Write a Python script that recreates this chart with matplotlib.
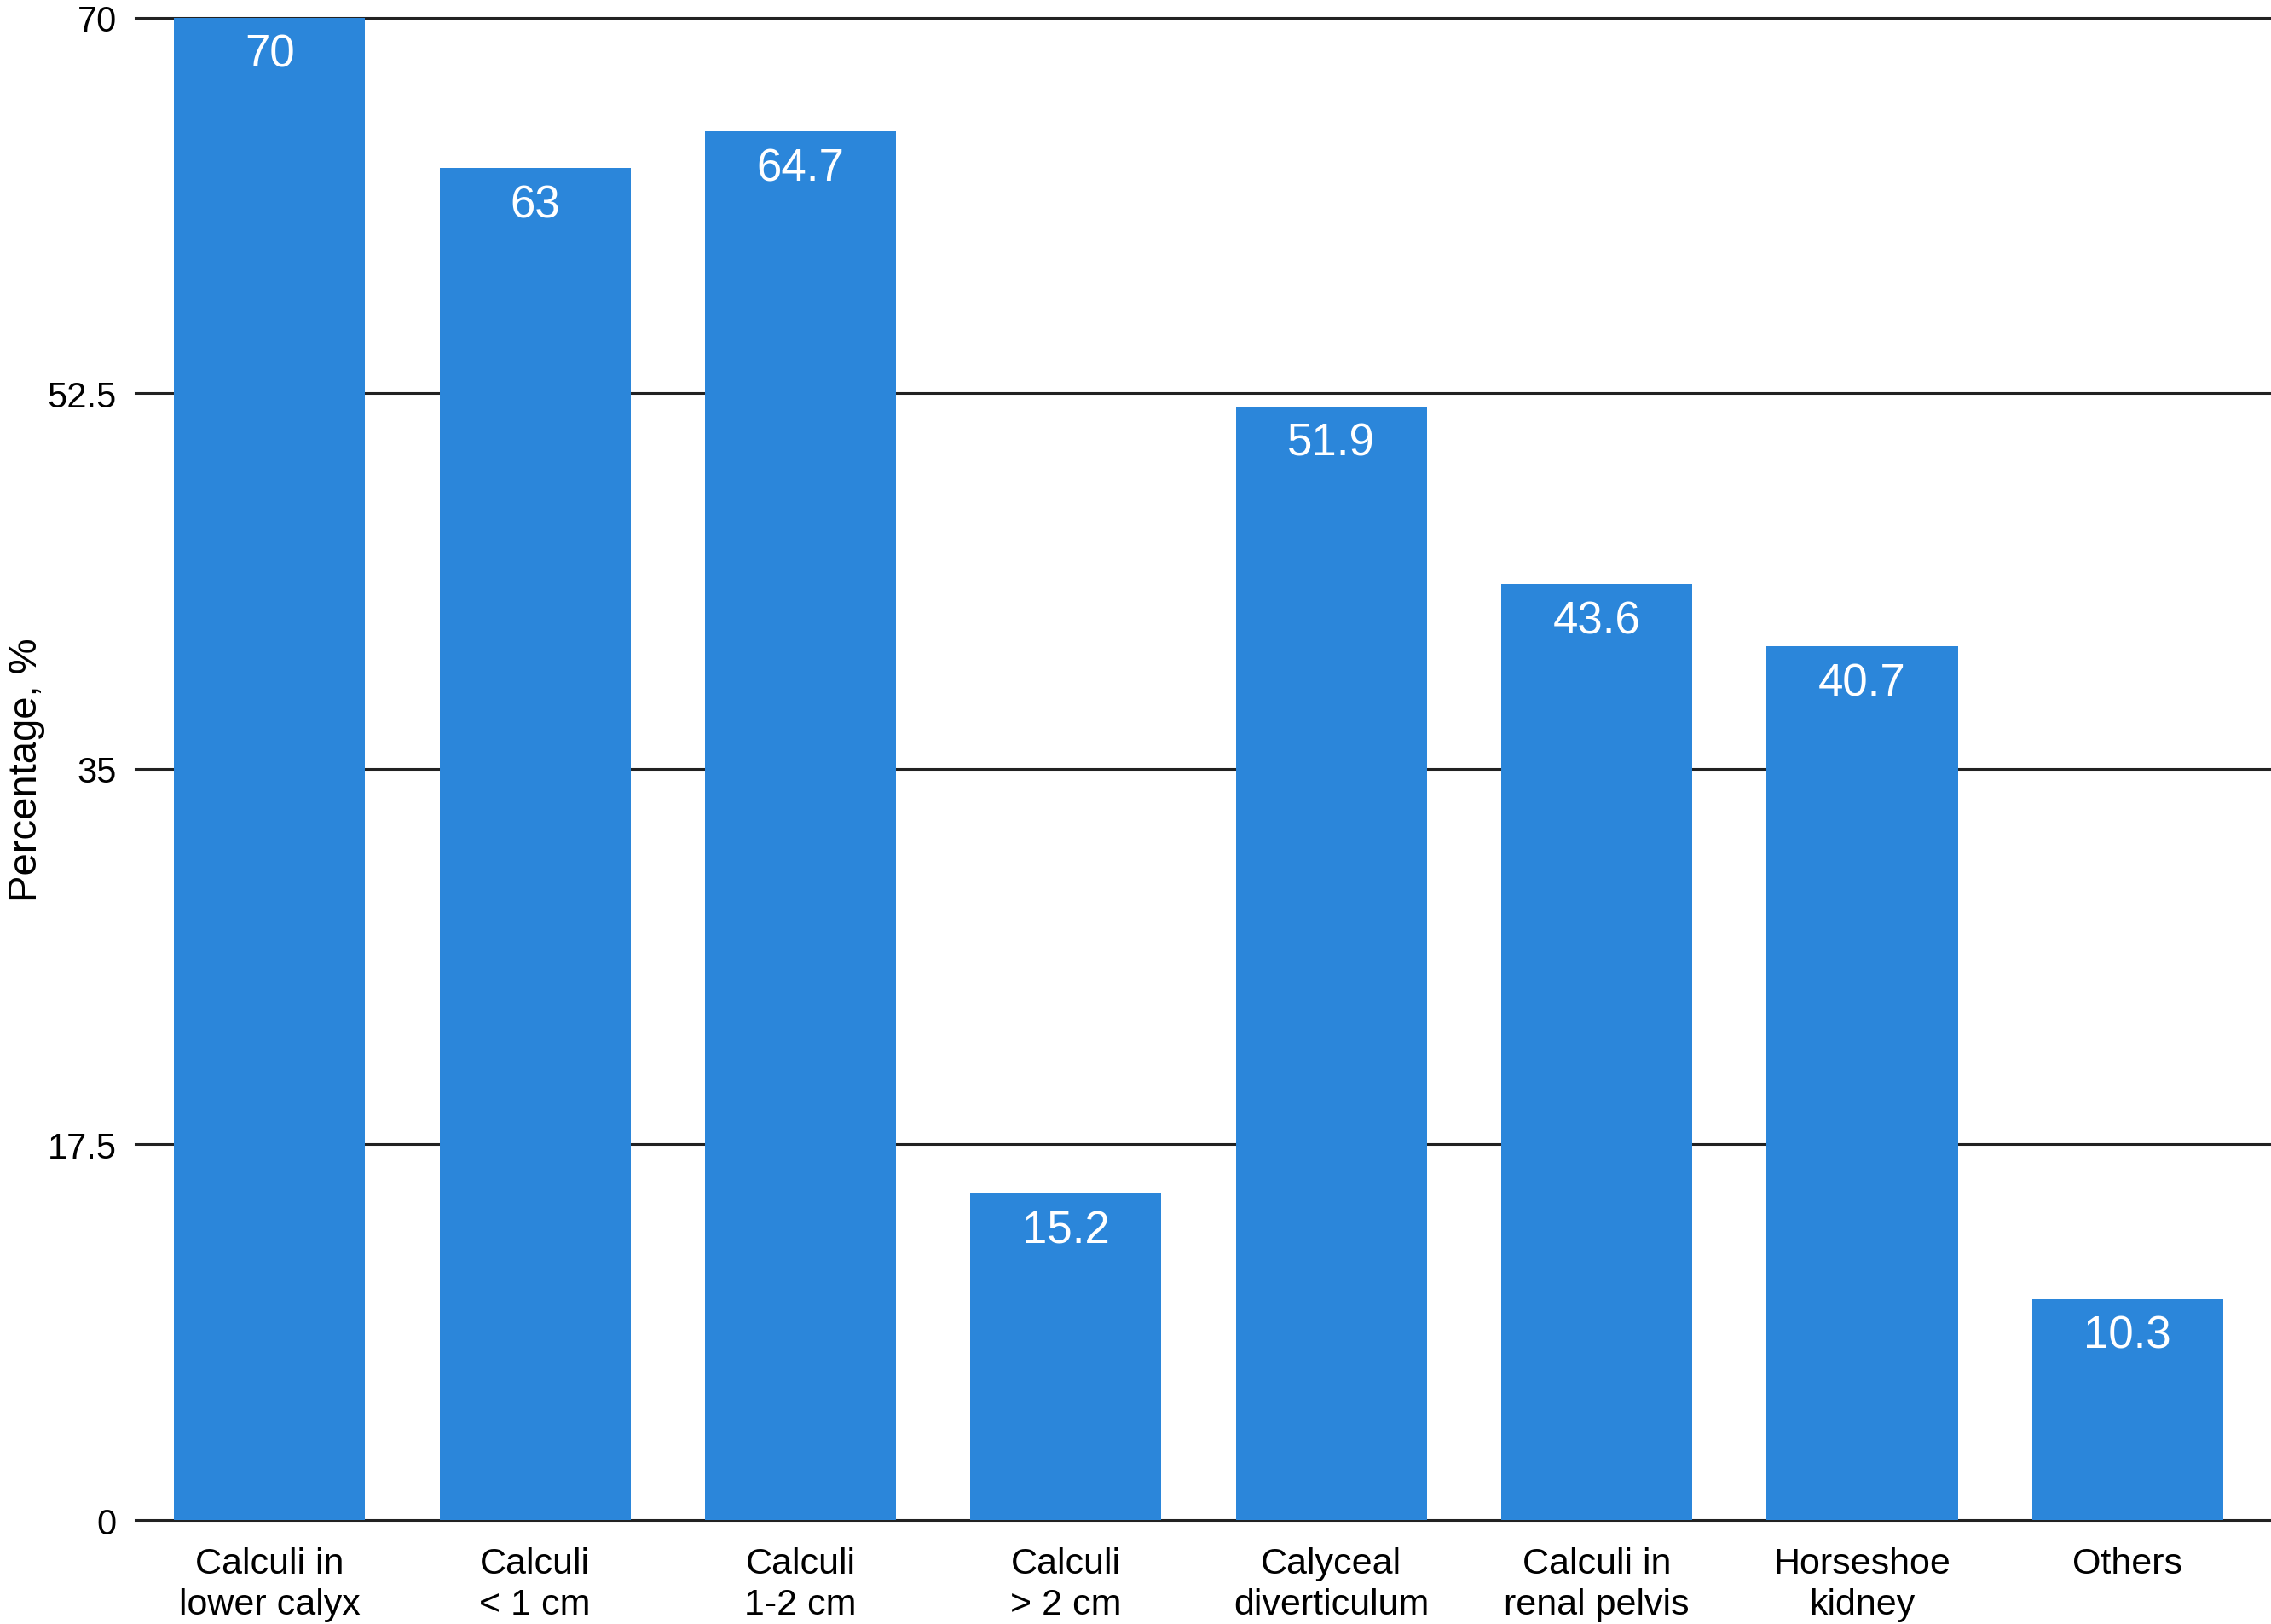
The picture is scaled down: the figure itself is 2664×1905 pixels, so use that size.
import matplotlib
matplotlib.use("Agg")
import matplotlib.pyplot as plt

plt.rcParams['font.family'] = ['Liberation Sans', 'DejaVu Sans']

categories = ["Calculi in\nlower calyx", "Calculi\n< 1 cm", "Calculi\n1-2 cm", "Calculi\n> 2 cm",
              "Calyceal\ndiverticulum", "Calculi in\nrenal pelvis", "Horseshoe\nkidney", "Others"]
values = [70, 63, 64.7, 15.2, 51.9, 43.6, 40.7, 10.3]
yticks = [0, 17.5, 35, 52.5, 70]
ytick_labels = ["0", "17.5", "35", "52.5", "70"]

fig = plt.figure(figsize=(26.64, 19.06), dpi=100)
ax = fig.add_axes([0.0597, 0.064, 0.9403, 0.9245])

x = list(range(len(categories)))
ax.bar(x, values, width=0.72, color="#2B86DA", zorder=3)

# value labels inside bar tops
for xi, v in zip(x, values):
    ax.annotate(str(v), xy=(xi, v), xytext=(0, -13), textcoords="offset points",
                ha="center", va="top", color="white", fontsize=38, zorder=4)

ax.set_xlim(-0.505, 7.54)
ax.set_ylim(0, 70)
ax.set_yticks(yticks)
ax.set_yticklabels(ytick_labels)
ax.set_xticks(x)
ax.set_xticklabels(categories, linespacing=1.26)

for s in ax.spines.values():
    s.set_visible(False)
ax.yaxis.grid(True, color="#222222", linewidth=2.2, zorder=1)
ax.set_axisbelow(True)
ax.tick_params(axis="y", length=0, labelsize=30, pad=16)
ax.tick_params(axis="x", length=0, labelsize=31, pad=22)

ax.set_ylabel("Percentage, %", fontsize=34)
ax.yaxis.set_label_coords(-0.0423, 0.5)

for line in ax.get_ygridlines():
    line.set_clip_on(False)

fig.savefig("out.png", dpi=100, facecolor="white")
